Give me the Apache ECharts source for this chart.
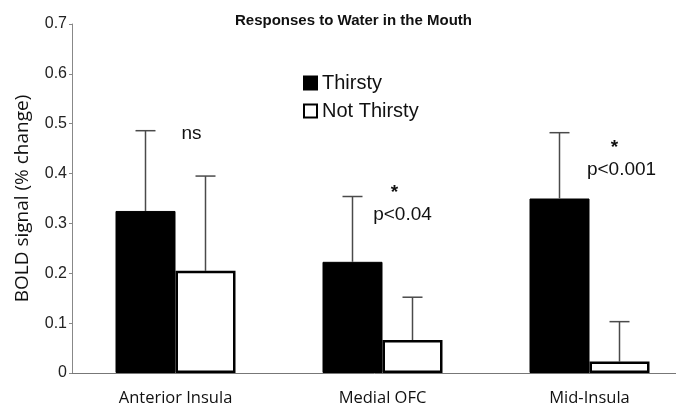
<!DOCTYPE html>
<html>
<head>
<meta charset="utf-8">
<script src="https://cdn.jsdelivr.net/npm/echarts@6/dist/echarts.min.js"></script>
<style>
  html, body { margin: 0; padding: 0; background: #fff; }
  #chart { width: 676px; height: 413px; }
</style>
</head>
<body>
<div id="chart"></div>
<script>
// data
var categories = ['Anterior Insula', 'Medial OFC', 'Mid-Insula'];
var thirsty = [0.325, 0.223, 0.350];
var thirstyUpper = [0.486, 0.354, 0.482];     // top of error bar
var notThirsty = [0.205, 0.066, 0.023];
var notThirstyUpper = [0.395, 0.152, 0.103];
var noteText = ['ns', 'p<0.04', 'p<0.001'];
var noteStar = ['', '*', '*'];
var noteLevel = [0.48, 0.317, 0.407];

var BAR_W = 60;

var chart = echarts.init(document.getElementById('chart'));

// error bar (upper only) drawn above the bar centre
var errRender = function (side) {
    return function (params, api) {
        var idx = api.value(0);
        var x = api.coord([idx, 0])[0] + side * BAR_W / 2;
        var yTop = api.coord([idx, api.value(1)])[1];
        var yErr = api.coord([idx, api.value(2)])[1];
        var st = { stroke: '#4a4a4a', lineWidth: 1.5 };
        return {
            type: 'group',
            children: [
                { type: 'line', shape: { x1: x, y1: yTop, x2: x, y2: yErr }, style: st },
                { type: 'line', shape: { x1: x - 10, y1: yErr, x2: x + 10, y2: yErr }, style: st }
            ]
        };
    };
};

var noteShift = [16, 20, 32];
var starShift = [0, -8, -7];
var noteRender = function (params, api) {
    var i = params.dataIndex;
    var p = api.coord([api.value(0), api.value(1)]);
    var font = '19px "Liberation Sans", Arial, sans-serif';
    var kids = [{
        type: 'text',
        x: p[0] + noteShift[i], y: p[1],
        style: { text: noteText[i], font: font, fill: '#111', align: 'center', verticalAlign: 'middle' }
    }];
    if (noteStar[i]) {
        kids.push({
            type: 'text',
            x: p[0] + noteShift[i] + starShift[i], y: p[1] - 22,
            style: { text: noteStar[i], font: 'bold 19px "Liberation Sans", Arial, sans-serif', fill: '#111', align: 'center', verticalAlign: 'middle' }
        });
    }
    return { type: 'group', children: kids };
};

var option = {
    backgroundColor: '#fff',
    animation: false,
    title: {
        text: 'Responses to Water in the Mouth',
        left: 230,
        top: 8,
        textStyle: { fontFamily: '"Liberation Sans", Arial, sans-serif', fontSize: 15, fontWeight: 'bold', color: '#111' }
    },
    legend: {
        data: ['Thirsty', 'Not Thirsty'],
        orient: 'vertical',
        left: 298,
        top: 68,
        itemWidth: 13,
        itemHeight: 13,
        itemGap: 8,
        icon: 'rect',
        textStyle: { fontFamily: '"Liberation Sans", Arial, sans-serif', fontSize: 20, color: '#111' }
    },
    grid: { left: 72, top: 24, bottom: 40, width: 621, outerBoundsMode: 'none' },
    xAxis: {
        type: 'category',
        data: categories,
        axisLine: { lineStyle: { color: '#777', width: 1 } },
        axisTick: { show: false },
        axisLabel: { margin: 17, fontFamily: '"Open Sans", "Noto Sans", sans-serif', fontSize: 16.5, color: '#111' }
    },
    yAxis: {
        type: 'value',
        min: 0,
        max: 0.7,
        interval: 0.1,
        name: 'BOLD signal (% change)',
        nameLocation: 'middle',
        nameGap: 40,
        nameTextStyle: { fontFamily: '"Open Sans", "Noto Sans", sans-serif', fontSize: 19, color: '#111' },
        splitLine: { show: false },
        axisLine: { show: true, lineStyle: { color: '#888', width: 1 } },
        axisTick: { show: true, length: 3, lineStyle: { color: '#888' } },
        axisLabel: { margin: 5, fontFamily: '"Liberation Sans", Arial, sans-serif', fontSize: 16, color: '#222' }
    },
    series: [
        {
            name: 'Thirsty',
            type: 'bar',
            data: thirsty,
            barWidth: BAR_W,
            barGap: '0%',
            itemStyle: { color: '#000', borderColor: '#000', borderWidth: 1 }
        },
        {
            name: 'Not Thirsty',
            type: 'bar',
            data: notThirsty,
            barWidth: BAR_W,
            barGap: '0%',
            itemStyle: { color: '#fff', borderColor: '#000', borderWidth: 2.5 }
        },
        {
            type: 'custom',
            renderItem: errRender(-1),
            data: thirsty.map(function (v, i) { return [i, v, thirstyUpper[i]]; }),
            z: 3
        },
        {
            type: 'custom',
            renderItem: errRender(1),
            data: notThirsty.map(function (v, i) { return [i, v, notThirstyUpper[i]]; }),
            z: 1
        },
        {
            type: 'custom',
            renderItem: noteRender,
            data: noteLevel.map(function (v, i) { return [i, v]; }),
            z: 4
        }
    ]
};
chart.setOption(option);
</script>
</body>
</html>
